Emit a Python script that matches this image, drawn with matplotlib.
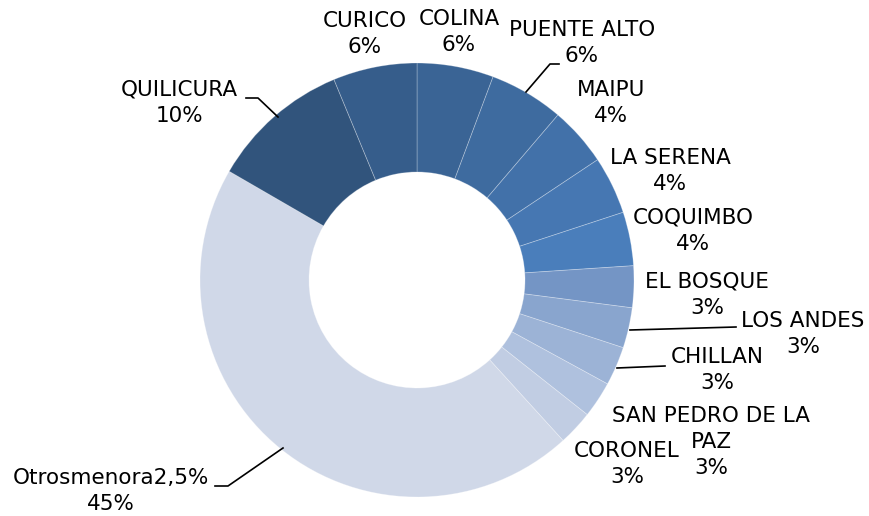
import matplotlib.pyplot as plt

# data (clockwise from 12 o'clock)
comunas = ['COLINA', 'PUENTE ALTO', 'MAIPU', 'LA SERENA', 'COQUIMBO',
           'EL BOSQUE', 'LOS ANDES', 'CHILLAN', 'SAN PEDRO DE LA\nPAZ',
           'CORONEL', 'Otrosmenora2,5%', 'QUILICURA', 'CURICO']
valores = [5.7, 5.55, 4.4, 4.3, 4.0, 3.1, 3.0, 2.9, 2.7, 2.6, 45.1, 10.4, 6.25]

colores = ['#3A6495', '#3E6B9F', '#4271A9', '#4677B2', '#4A7EBB',
           '#7495C5', '#89A5CE', '#9CB3D6', '#AFC1DE', '#C1CDE3',
           '#D0D8E8', '#31547C', '#365D8B']

H = 516  # figure height in px, used to flip pixel y to data y
paso = 26  # line pitch of the labels, px

# label centres in pixel coords from top-left (layout only)
pos_etiquetas = [(459, 32), (582, 43), (611, 103), (670, 171), (693, 231),
                 (707, 295), (803, 334), (717, 370), (711, 442),
                 (627, 464), (111, 491), (179, 103), (365, 34)]

# leader lines (layout only), pixel coords from top-left
guias = [
    [(526, 92), (550, 64), (559, 64)],
    [(630, 330), (736, 327)],
    [(617, 368), (665, 366)],
    [(283, 448), (228, 486), (215, 486)],
    [(278, 117), (258, 98), (246, 98)],
]

fig = plt.figure(figsize=(8.69, 5.16), dpi=100)
ax = fig.add_axes([0, 0, 1, 1])

ax.pie(valores, colors=colores, startangle=90, counterclock=False,
       center=(417, H - 280), radius=217, frame=True,
       wedgeprops=dict(width=109, edgecolor=(1, 1, 1, 0.3), linewidth=0.6))

# each label line is its own text so the blocks don't overlap
for nombre, v, (x, y) in zip(comunas, valores, pos_etiquetas):
    lineas = nombre.split('\n') + [f"{round(v):.0f}%"]
    y0 = y - paso * (len(lineas) - 1) / 2
    for i, linea in enumerate(lineas):
        ax.text(x, H - (y0 + i * paso), linea, ha='center', va='center',
                fontsize=15.5, color='#000000')

for pts in guias:
    xs = [p[0] for p in pts]
    ys = [H - p[1] for p in pts]
    ax.plot(xs, ys, color='black', lw=1.2)

ax.set_xlim(0, 869)
ax.set_ylim(0, H)
ax.set_aspect('equal')
ax.axis('off')

fig.savefig('out.png', dpi=100)
